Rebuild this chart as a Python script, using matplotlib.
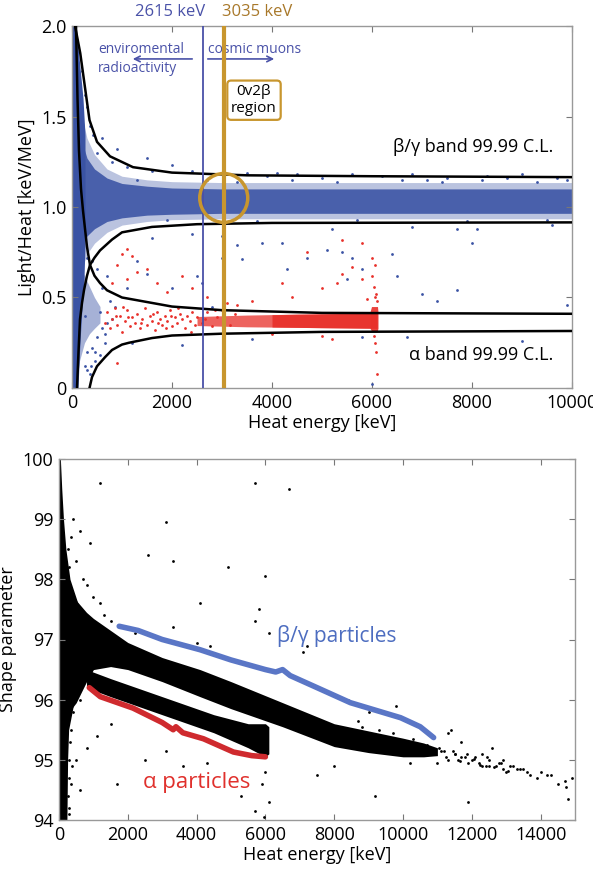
import matplotlib
matplotlib.use("Agg")
import matplotlib.pyplot as plt
from matplotlib.patches import Ellipse

plt.rcParams['font.family'] = ['Open Sans', 'DejaVu Sans']

# ---------------- data: top panel (Light/Heat vs heat energy) ----------------
# band curves (99.99 C.L.)
bg_up_E = [60, 110, 165, 260, 350, 500, 760, 1220, 2000, 3500, 6000, 10000]
bg_up_y = [2.0, 1.93, 1.85, 1.66, 1.48, 1.36, 1.28, 1.22, 1.19, 1.175, 1.17, 1.165]
bg_lo_E = [100, 130, 160, 200, 240, 300, 360, 450, 560, 800, 1000, 1600, 2500, 4000, 10000]
bg_lo_y = [0.0, 0.2, 0.38, 0.47, 0.54, 0.62, 0.68, 0.72, 0.76, 0.82, 0.86, 0.89, 0.905, 0.912, 0.915]
al_up_E = [80, 110, 140, 180, 220, 300, 360, 450, 560, 700, 1000, 1600, 2000, 3000, 5000, 10000]
al_up_y = [2.0, 1.6, 1.31, 1.1, 0.98, 0.78, 0.68, 0.62, 0.58, 0.54, 0.50, 0.47, 0.45, 0.43, 0.415, 0.41]
al_lo_E = [350, 400, 500, 660, 800, 1000, 1140, 1600, 2000, 3000, 5000, 10000]
al_lo_y = [0.0, 0.06, 0.12, 0.17, 0.21, 0.24, 0.25, 0.276, 0.29, 0.30, 0.31, 0.315]

# dense beta/gamma population (region envelopes)
blue_strip_y = [0, 0.2, 0.4, 0.6, 0.8, 1.0, 1.2, 1.4, 1.6, 1.8, 2.0]
blue_strip_E = [120, 150, 190, 240, 260, 260, 260, 260, 220, 150, 80]
blue_band_E = [150, 200, 300, 450, 700, 1000, 1500, 2000, 3000, 5000, 7000, 10000]
blue_band_lo = [0.72, 0.78, 0.84, 0.88, 0.92, 0.94, 0.955, 0.96, 0.965, 0.965, 0.965, 0.965]
blue_band_hi = [1.45, 1.36, 1.27, 1.21, 1.16, 1.13, 1.115, 1.105, 1.10, 1.10, 1.10, 1.10]
blue_halo_lo = [0.60, 0.66, 0.74, 0.80, 0.86, 0.90, 0.92, 0.93, 0.935, 0.935, 0.935, 0.935]
blue_halo_hi = [1.60, 1.50, 1.38, 1.29, 1.21, 1.17, 1.15, 1.14, 1.135, 1.135, 1.135, 1.135]
blue_low_E = [100, 150, 250, 350, 450, 560]
blue_low_lo = [0.05, 0.15, 0.25, 0.30, 0.33, 0.36]
blue_low_hi = [0.70, 0.68, 0.62, 0.56, 0.50, 0.45]

# scattered beta/gamma events
blue_pts_E = [200, 250, 300, 350, 420, 500, 600, 800, 900, 1100, 1500, 1600, 2000, 2400, 2900,
              3500, 3900, 4500, 5000, 5600, 6200, 6800, 7500, 8300, 9000, 9700, 4100, 7100, 8700,
              1600, 2400, 3000, 3300, 3000, 3400, 3800, 4200, 4700, 4300, 2500, 2000, 1300, 1500,
              1100, 5200, 5400, 5600, 5500, 5800, 6400, 6500, 5100, 7000, 7300, 7700, 8000, 8100,
              9600, 9900, 6800, 7700, 2600, 2800, 1200, 2200, 5800, 6700, 9000, 3600, 6000,
              250, 300, 400, 500, 600, 700, 350, 450, 550, 650, 800, 200, 300, 400, 500, 700,
              600, 750, 850, 450, 300, 550, 380, 650, 260,
              1300, 2700, 3300, 4400, 5300, 6600, 7400, 8200, 9300, 9900, 1900, 3700, 5700, 7900, 9500]
blue_pts_y = [1.75, 1.62, 1.55, 1.45, 1.40, 1.30, 1.38, 1.25, 1.32, 1.22, 1.27, 1.20, 1.23, 1.20, 1.18,
              1.19, 1.17, 1.18, 1.16, 1.18, 1.17, 1.18, 1.16, 1.17, 1.18, 1.16, 1.19, 1.15, 1.16,
              0.83, 0.85, 0.84, 0.79, 0.72, 0.71, 0.80, 0.80, 0.72, 0.66, 0.62, 0.55, 0.70, 0.63,
              0.55, 0.88, 0.75, 0.72, 0.60, 0.66, 0.74, 0.62, 0.76, 0.52, 0.48, 0.54, 0.80, 0.88,
              0.90, 0.46, 0.89, 0.88, 0.58, 0.45, 0.25, 0.24, 0.28, 0.28, 0.26, 0.27, 0.02,
              0.12, 0.20, 0.22, 0.28, 0.33, 0.36, 0.08, 0.15, 0.42, 0.30, 0.38, 0.78, 0.72, 0.70,
              0.66, 0.62, 0.55, 0.48, 0.45, 0.20, 0.10, 0.18, 0.12, 0.25, 0.40,
              1.15, 1.15, 1.14, 1.15, 1.14, 1.15, 1.14, 1.15, 1.14, 1.15, 0.93, 0.92, 0.93, 0.92, 0.93]

# alpha population
red_band_E = [2500, 3500, 4500, 5500, 6100]
red_band_lo = [0.345, 0.338, 0.335, 0.332, 0.330]
red_band_hi = [0.395, 0.403, 0.408, 0.410, 0.415]
red_core_E = [4000, 5000, 6100]
red_core_lo = [0.337, 0.333, 0.330]
red_core_hi = [0.405, 0.410, 0.415]
red_strip_y = [0.31, 0.33, 0.42, 0.45]
red_strip_E0 = [6000, 5960, 5960, 5990]
red_strip_E1 = [6100, 6120, 6120, 6110]
red_pts_E = [1100, 1000, 1200, 900, 1300, 1500, 1100, 800, 1700, 1900, 2200, 2400, 2700, 3100,
             3300, 3600, 4400, 5000, 4700, 5400, 5800, 5600, 5300, 5400, 5800, 6000, 6050, 5900,
             4200, 900, 4000, 5000, 5200, 6050, 6080, 6100, 6050, 6000, 6070, 6030, 6090, 6040,
             650, 700, 750, 800, 850, 900, 950, 1000, 1050, 1100, 1150, 1200, 1250, 1300, 1350,
             1400, 1450, 1500, 1550, 1600, 1650, 1700, 1750, 1800, 1850, 1900, 1950, 2000, 2050,
             2100, 2150, 2200, 2250, 2300, 2350, 2400, 2450, 2500, 1120, 1380, 1620, 1880, 2120,
             2380, 880, 1020, 1720, 1980, 2600, 2700, 2800, 2900, 3000, 3150, 3250, 2650, 2850]
red_pts_y = [0.77, 0.74, 0.73, 0.68, 0.64, 0.66, 0.60, 0.58, 0.58, 0.53, 0.62, 0.55, 0.50, 0.47,
             0.46, 0.48, 0.50, 0.55, 0.75, 0.82, 0.80, 0.67, 0.58, 0.63, 0.60, 0.62, 0.50, 0.49,
             0.58, 0.14, 0.30, 0.29, 0.27, 0.25, 0.20, 0.08, 0.68, 0.72, 0.52, 0.56, 0.48, 0.29,
             0.36, 0.42, 0.33, 0.38, 0.44, 0.35, 0.40, 0.31, 0.37, 0.43, 0.34, 0.39, 0.36, 0.41,
             0.33, 0.38, 0.44, 0.35, 0.40, 0.37, 0.32, 0.42, 0.38, 0.35, 0.40, 0.37, 0.43, 0.34,
             0.39, 0.36, 0.41, 0.38, 0.33, 0.40, 0.37, 0.42, 0.35, 0.39, 0.39, 0.36, 0.41, 0.33,
             0.44, 0.31, 0.40, 0.45, 0.36, 0.40, 0.36, 0.42, 0.34, 0.39, 0.43, 0.35, 0.41, 0.38,
             0.43]

# reference lines
line_2615 = 2615
line_3035 = 3035

# ---------------- data: bottom panel (shape parameter) ----------------
sp_strip_y = [94, 94.5, 95, 95.5, 96, 96.3, 96.8, 97.2, 97.6, 98, 98.5, 99, 99.5, 100]
sp_strip_E = [230, 240, 250, 280, 450, 700, 1000, 800, 550, 320, 200, 130, 80, 40]
sp_main_E = [200, 300, 500, 800, 1000, 1500, 2000, 3000, 4100, 5000, 6500, 8000, 9000, 10000, 10600, 11000]
sp_main_hi = [98.3, 97.95, 97.65, 97.45, 97.35, 97.15, 96.95, 96.7, 96.5, 96.3, 95.95, 95.6, 95.48, 95.36, 95.28, 95.2]
sp_main_lo = [95.7, 95.8, 95.95, 96.3, 96.5, 96.55, 96.5, 96.3, 96.05, 95.85, 95.55, 95.22, 95.12, 95.05, 95.05, 95.07]
sp_alpha_E = [800, 1500, 2500, 3500, 4500, 5500, 6000, 6100]
sp_alpha_hi = [96.5, 96.35, 96.15, 95.95, 95.75, 95.6, 95.6, 95.55]
sp_alpha_lo = [96.2, 96.05, 95.85, 95.65, 95.45, 95.2, 95.05, 95.1]
sp_pts_E = [1200, 5700, 6700, 3100, 2600, 3300, 4900, 6000, 4100, 5800, 5700, 6100, 3300, 4000, 4400,
            600, 400, 350, 500, 900, 700, 1000, 1200, 1300, 1500, 1800, 2200, 800, 300, 250,
            1100, 800, 500, 300, 600, 1700, 2500, 3100, 3600, 4300, 5300, 5700, 5900, 6000, 6100,
            5950, 400, 600, 1500, 7100, 7200, 8400, 9800, 7500, 8000, 9200, 10200, 11000, 11400,
            11900, 11700, 12300, 12800, 13200, 13500, 13700, 14000, 14300, 14700, 14800, 14750,
            14900, 12600, 13000, 11300, 8700, 9000, 6600, 11500, 12000, 12200, 12500, 12900, 13300,
            11200, 11800, 12400, 13600, 14200, 10800, 11600, 13900, 14500,
            10900, 11100, 11300, 11500, 11700, 11900, 12100, 12300, 12500, 12700, 12900, 13100,
            11050, 11250, 11450, 11650, 11850, 12050, 12250, 12450, 12650, 12850, 13050, 13400,
            10700, 10300, 9700, 9300, 8800, 10500, 10100, 9500,
            300, 350, 280, 320, 380, 260, 340, 300]
sp_pts_y = [99.6, 99.6, 99.5, 98.95, 98.4, 98.3, 98.2, 98.05, 97.6, 97.5, 97.3, 97.1, 97.2, 96.95, 96.9,
            98.8, 99.0, 98.7, 98.3, 98.6, 98.0, 97.7, 97.6, 97.4, 97.3, 97.2, 97.1, 97.9, 98.2, 98.5,
            95.4, 95.2, 95.0, 94.7, 94.5, 94.6, 95.0, 95.15, 94.9, 94.95, 94.4, 94.15, 94.6, 94.8, 94.3,
            94.05, 95.8, 96.0, 95.6, 96.8, 96.9, 96.0, 95.9, 94.75, 94.9, 94.4, 94.95, 94.95, 95.5,
            94.3, 95.3, 95.1, 94.95, 94.9, 94.85, 94.75, 94.8, 94.75, 94.65, 94.35, 94.55,
            94.7, 95.2, 94.8, 95.45, 95.65, 95.8, 95.8, 95.1, 95.0, 94.95, 94.9, 95.0, 94.85,
            95.15, 95.05, 94.9, 94.8, 94.75, 95.2, 95.0, 94.7, 94.6,
            95.1, 95.15, 95.0, 95.1, 95.05, 94.95, 95.05, 94.9, 95.0, 94.9, 94.85, 94.9,
            95.2, 95.05, 95.15, 94.98, 95.1, 95.02, 94.92, 95.05, 94.88, 94.95, 94.82, 94.85,
            95.25, 95.35, 95.45, 95.5, 95.55, 95.15, 95.3, 95.2,
            94.2, 94.6, 95.0, 95.3, 94.9, 94.4, 95.5, 94.1]
bg_arrow_E = [1750, 2300, 3000, 4100, 5000, 6000, 6300, 6500, 6720, 7500, 8470, 9930, 10500, 10890]
bg_arrow_y = [97.22, 97.15, 97.0, 96.83, 96.66, 96.5, 96.46, 96.5, 96.4, 96.2, 95.95, 95.7, 95.55, 95.37]
al_arrow_E = [880, 1200, 2150, 3000, 3320, 3400, 3600, 4200, 5070, 5600, 6000]
al_arrow_y = [96.2, 96.05, 95.86, 95.62, 95.5, 95.55, 95.45, 95.35, 95.13, 95.07, 95.05]

# ---------------- drawing ----------------
BLUE = '#3a53a4'
RED = '#e8302a'
GOLD = '#c8962e'
TXTBLUE = '#4a52a8'
SPINE = '#999999'

fig = plt.figure(figsize=(5.93, 8.76), dpi=100)
ax1 = fig.add_axes([72/593, 1-388/876, 500/593, 362/876])
ax2 = fig.add_axes([59/593, 1-820/876, 516/593, 361/876])

for ax in (ax1, ax2):
    for s in ax.spines.values():
        s.set_color(SPINE)
        s.set_linewidth(1.0)
    ax.tick_params(direction='in', top=True, right=True, length=4, width=0.8,
                   color='#777777', labelsize=13, pad=4)

# --- top panel ---
ax1.fill_betweenx(blue_strip_y, 0, blue_strip_E, color=BLUE, lw=0, zorder=1)
ax1.fill_between(blue_band_E, blue_halo_lo, blue_halo_hi, color=BLUE, alpha=0.35, lw=0, zorder=1)
ax1.fill_between(blue_band_E, blue_band_lo, blue_band_hi, color=BLUE, alpha=0.88, lw=0, zorder=1)
ax1.fill_between(blue_low_E, blue_low_lo, blue_low_hi, color=BLUE, alpha=0.45, lw=0, zorder=1)
ax1.scatter(blue_pts_E, blue_pts_y, s=4, color=BLUE, lw=0, zorder=2)

ax1.fill_between(red_band_E, red_band_lo, red_band_hi, color=RED, alpha=0.75, lw=0, zorder=2)
ax1.fill_between(red_core_E, red_core_lo, red_core_hi, color=RED, alpha=0.9, lw=0, zorder=2)
ax1.fill_betweenx(red_strip_y, red_strip_E0, red_strip_E1, color=RED, alpha=0.9, lw=0, zorder=2)
ax1.scatter(red_pts_E, red_pts_y, s=4, color=RED, lw=0, zorder=3)

for E, y in ((bg_up_E, bg_up_y), (bg_lo_E, bg_lo_y), (al_up_E, al_up_y), (al_lo_E, al_lo_y)):
    ax1.plot(E, y, color='black', lw=1.8, zorder=4)

ax1.axvline(line_2615, color='#4a50a8', lw=1.3, zorder=5)
ax1.axvline(line_3035, color=GOLD, lw=3.0, zorder=5)
ax1.add_patch(Ellipse((line_3035, 1.05), 960, 0.27, fill=False, ec=GOLD, lw=2.5, zorder=6))

ax1.set_xlim(0, 10000)
ax1.set_ylim(0, 2.0)
ax1.set_xticks([0, 2000, 4000, 6000, 8000, 10000])
ax1.set_yticks([0, 0.5, 1.0, 1.5, 2.0])
ax1.set_yticklabels(['0', '0.5', '1.0', '1.5', '2.0'])
ax1.set_xlabel('Heat energy [keV]', fontsize=13, labelpad=2)
ax1.set_ylabel('Light/Heat [keV/MeV]', fontsize=13, labelpad=4)

ax1.text(2660, 2.035, '2615 keV', color=TXTBLUE, fontsize=12, ha='right', va='bottom', clip_on=False)
ax1.text(3000, 2.035, '3035 keV', color='#a8782a', fontsize=12, ha='left', va='bottom', clip_on=False)
ax1.text(520, 1.87, 'enviromental', color=TXTBLUE, fontsize=10, ha='left', va='center')
ax1.text(520, 1.765, 'radioactivity', color=TXTBLUE, fontsize=10, ha='left', va='center')
ax1.text(2720, 1.87, 'cosmic muons', color=TXTBLUE, fontsize=10, ha='left', va='center')
ax1.annotate('', xy=(1160, 1.818), xytext=(2460, 1.818),
             arrowprops=dict(arrowstyle='->', color=TXTBLUE, lw=1.2))
ax1.annotate('', xy=(4100, 1.818), xytext=(2660, 1.818),
             arrowprops=dict(arrowstyle='->', color=TXTBLUE, lw=1.2))
ax1.text(3640, 1.59, '0v2β\nregion', fontsize=11, ha='center', va='center', linespacing=1.15,
         bbox=dict(boxstyle='round,pad=0.25', fc='white', ec=GOLD, lw=1.6), zorder=7)
ax1.text(9620, 1.33, 'β/γ band 99.99 C.L.', fontsize=13, ha='right', va='center', zorder=7)
ax1.text(9620, 0.18, 'α band 99.99 C.L.', fontsize=13, ha='right', va='center', zorder=7)

# --- bottom panel ---
ax2.fill_betweenx(sp_strip_y, 0, sp_strip_E, color='black', lw=0, zorder=1)
ax2.fill_between(sp_main_E, sp_main_lo, sp_main_hi, color='black', lw=0, zorder=1)
ax2.fill_between(sp_alpha_E, sp_alpha_lo, sp_alpha_hi, color='black', lw=0, zorder=1)
ax2.scatter(sp_pts_E, sp_pts_y, s=4, color='black', lw=0, zorder=2)
ax2.plot(bg_arrow_E, bg_arrow_y, color='#5a76c6', lw=4, solid_capstyle='round', zorder=3)
ax2.plot(al_arrow_E, al_arrow_y, color='#cf2a2e', lw=4, solid_capstyle='round', zorder=3)

ax2.set_xlim(0, 15000)
ax2.set_ylim(94, 100)
ax2.set_xticks([0, 2000, 4000, 6000, 8000, 10000, 12000, 14000])
ax2.set_yticks([94, 95, 96, 97, 98, 99, 100])
ax2.set_xlabel('Heat energy [keV]', fontsize=13, labelpad=2)
ax2.set_ylabel('Shape parameter', fontsize=13, labelpad=4)
ax2.text(8080, 97.06, 'β/γ particles', color='#4d6dc0', fontsize=15, ha='center', va='center')
ax2.text(4010, 94.62, 'α particles', color='#e0302c', fontsize=16, ha='center', va='center')

fig.savefig('out.png', dpi=100)
